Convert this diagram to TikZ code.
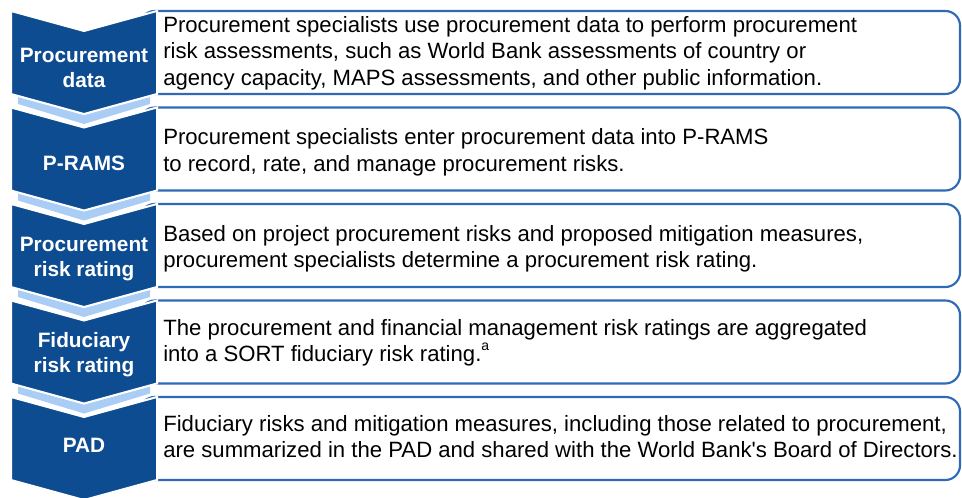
\documentclass[tikz,border=0pt]{standalone}
\usepackage{fontspec}
\setmainfont{Liberation Sans}
\usepackage{xcolor}
\definecolor{wbdark}{RGB}{14,76,146}
\definecolor{wbline}{RGB}{46,106,181}
\definecolor{wblight}{RGB}{169,205,245}

\tikzset{
  chev/.style={fill=wbdark,draw=white,line width=1.5pt},
  band/.style={fill=wblight,draw=none},
  descbox/.style={draw=wbline,line width=1.6pt,fill=white,rounded corners=11pt},
  steplabel/.style={text=white,font=\fontsize{15.6}{18.6}\selectfont\bfseries,align=center},
  desctext/.style={text=black,font=\fontsize{16.6}{19.9}\selectfont,align=left,anchor=west,inner sep=0pt}
}

\begin{document}
\begin{tikzpicture}[x=0.75pt,y=-0.75pt]
  \useasboundingbox (0,0) rectangle (962,498);
  % boxes
  \foreach \t in {11,107.5,204,300.5,397}
    \draw[descbox] (140,\t) rectangle (960,\t+83);
  % light strips under the arrows
  \foreach \b in {94,190.5,287,383.5}
    \path[band] (18,\b+3) -- (84,\b+21) -- (150,\b+3) -- (150,\b+10) -- (84,\b+30) -- (18,\b+10) -- cycle;
  % arrows
  \foreach \t in {11,107.5,204,300.5,397}
    \path[chev] (11,\t) -- (84,\t+20) -- (157,\t) -- (157,\t+83) -- (84,\t+103) -- (11,\t+83) -- cycle;

  \node[steplabel] (s1) at (84,68) {Procurement\\data};
  \node[steplabel] (s2) at (84,163) {P-RAMS};
  \node[steplabel] (s3) at (84,259) {Procurement\\risk rating};
  \node[steplabel] (s4) at (84,355) {Fiduciary\\risk rating};
  \node[steplabel] (s5) at (84,445) {PAD};

  \node[desctext] (d1) at (163,53) {Procurement specialists use procurement data to perform procurement\\risk assessments, such as World Bank assessments of country or\\agency capacity, MAPS assessments, and other public information.};
  \node[desctext] (d2) at (163,152.5) {Procurement specialists enter procurement data into P-RAMS\\to record, rate, and manage procurement risks.};
  \node[desctext] (d3) at (163,249) {Based on project procurement risks and proposed mitigation measures,\\procurement specialists determine a procurement risk rating.};
  \node[desctext] (d4) at (163,343) {The procurement and financial management risk ratings are aggregated\\into a SORT fiduciary risk rating.\raisebox{0.5em}{\fontsize{10.5}{10.5}\selectfont a}};
  \node[desctext] (d5) at (163,436.5) {Fiduciary risks and mitigation measures, including those related to procurement,\\are summarized in the PAD and shared with the World Bank\textquotesingle s Board of Directors.};
\end{tikzpicture}
\end{document}
